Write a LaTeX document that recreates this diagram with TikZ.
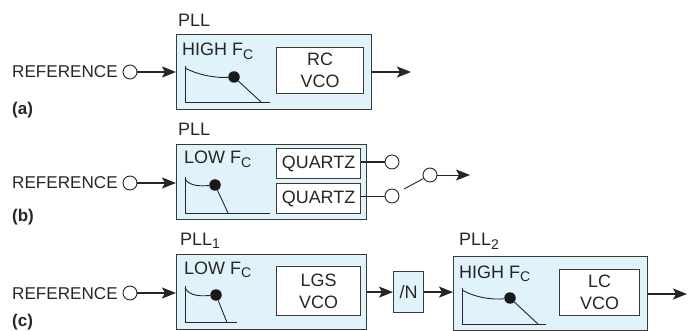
\documentclass[tikz,border=0pt]{standalone}
\usepackage{fontspec}
\setmainfont{Liberation Sans}
\usetikzlibrary{arrows.meta,positioning}
\definecolor{pllblue}{HTML}{E0F2FA}
\definecolor{linegray}{HTML}{3A3A3C}
\newcommand{\lowtxt}[1]{\raisebox{-3.5pt}{\fontsize{14}{14}\selectfont #1}}
\tikzset{
    lbl/.style={inner sep=0pt, anchor=base west, text=black!85, font=\fontsize{18}{20}\selectfont},
    boldlbl/.style={lbl, font=\fontsize{17}{20}\selectfont\bfseries},
    reflbl/.style={lbl, font=\fontsize{17.1}{20}\selectfont},
    bluebox/.style={draw=linegray, line width=1.2pt, fill=pllblue, inner sep=0pt, anchor=north west},
    whitebox/.style={draw=linegray, line width=1.1pt, fill=white, inner sep=0pt, align=center, anchor=north west, text=black!85, font=\fontsize{17.9}{22}\selectfont},
    port/.style={circle, draw=black!85, line width=0.9pt, fill=white, inner sep=0pt, minimum size=14pt},
    dotnode/.style={circle, fill=black!90, inner sep=0pt, minimum size=11.5pt},
    arrowline/.style={-{Stealth[length=14pt,width=11pt,inset=3pt]}, line width=1.3pt, draw=black!85},
    plotline/.style={line width=0.9pt, draw=black!85}
}
\begin{document}
\begin{tikzpicture}[x=1pt,y=-1pt]
    \useasboundingbox (0,0) rectangle (696,331);

    % (a)
    \node[bluebox, minimum width=195pt, minimum height=75pt] (plla) at (176,34) {};
    \node[whitebox, minimum width=87pt, minimum height=46pt] (rcvco) at (276,47) {RC\\VCO};
    \node[lbl] (plla label) at (178,27) {PLL};
    \node[lbl] (higha) at (182,56) {HIGH F\lowtxt{C}};
    \node[reflbl] (refa label) at (12,78) {REFERENCE};
    \node[port] (refa) at (130,72) {};
    \node[boldlbl] (a label) at (12,115) {(a)};
    \node[dotnode] (dota) at (234,77) {};
    \coordinate (lowa) at (261,102);
    \coordinate (enda) at (270,102);
    \draw[plotline] (185,66) -- (185,102) -- (enda);
    \draw[plotline] (185,68) .. controls (200,76) and (218,78) .. (dota);
    \draw[plotline] (dota) -- (lowa);
    \coordinate (outa) at (411,72);
    \draw[arrowline] (refa) -- (plla.west |- refa);
    \draw[arrowline] (plla.east |- outa) -- (outa);

    % (b)
    \node[bluebox, minimum width=190pt, minimum height=75pt] (pllb) at (176,144) {};
    \node[whitebox, minimum width=84pt, minimum height=30pt] (quartza) at (276,148) {QUARTZ};
    \node[whitebox, minimum width=84pt, minimum height=30pt] (quartzb) at (276,183) {QUARTZ};
    \node[lbl] (pllb label) at (178,136) {PLL};
    \node[lbl] (lowb) at (184,164) {LOW F\lowtxt{C}};
    \node[reflbl] (refb label) at (12,189) {REFERENCE};
    \node[port] (refb) at (130,183) {};
    \node[boldlbl] (b label) at (12,222) {(b)};
    \node[dotnode] (dotb) at (215,185) {};
    \coordinate (lowbb) at (228,213);
    \coordinate (endb) at (270,213);
    \draw[plotline] (185,177) -- (185,213) -- (endb);
    \draw[plotline] (185,179) .. controls (190,187) and (203,186) .. (dotb);
    \draw[plotline] (dotb) -- (lowbb);
    \node[port] (outb1) at (392,162) {};
    \node[port] (outb2) at (392,196) {};
    \node[port] (swb) at (430,175) {};
    \coordinate (swend) at (404,189);
    \coordinate (outb) at (470,175);
    \draw[arrowline] (refb) -- (pllb.west |- refb);
    \draw[line width=1.3pt, draw=black!85] (quartza.east |- outb1) -- (outb1);
    \draw[plotline] (quartzb.east |- outb2) -- (outb2);
    \draw[plotline] (swend) -- (swb);
    \draw[arrowline, line width=0.9pt] (swb) -- (outb);

    % (c)
    \node[bluebox, minimum width=190pt, minimum height=75pt] (pllc) at (176,254) {};
    \node[whitebox, minimum width=84pt, minimum height=49pt] (lgsvco) at (276,266) {LGS\\VCO};
    \node[lbl] (pllc label) at (180,245) {PLL\lowtxt{1}};
    \node[lbl] (lowc) at (184,274) {LOW F\lowtxt{C}};
    \node[reflbl] (refc label) at (12,299) {REFERENCE};
    \node[port] (refc) at (130,293) {};
    \node[boldlbl] (c label) at (12,326) {(c)};
    \node[dotnode] (dotc) at (216,295) {};
    \coordinate (lowcc) at (227,322.5);
    \coordinate (endc) at (237,322.5);
    \draw[plotline] (185,286) -- (185,322.5) -- (endc);
    \draw[plotline] (185,288) .. controls (190,297) and (203,296) .. (dotc);
    \draw[plotline] (dotc) -- (lowcc);
    \node[bluebox, minimum width=30pt, minimum height=41pt, text=black!85, font=\fontsize{18}{20}\selectfont] (div) at (393,271) {/N};
    \node[bluebox, minimum width=194pt, minimum height=74pt] (pllt) at (453,256) {};
    \node[whitebox, minimum width=80pt, minimum height=46pt] (lcvco) at (559,269) {LC\\VCO};
    \node[lbl] (pllt label) at (459,246) {PLL\lowtxt{2}};
    \node[lbl] (hight) at (459,278) {HIGH F\lowtxt{C}};
    \node[dotnode] (dott) at (510,298) {};
    \coordinate (lowt) at (538,324);
    \coordinate (endt) at (546,324);
    \draw[plotline] (462,288) -- (462,324) -- (endt);
    \draw[plotline] (462,290) .. controls (476,298) and (494,300) .. (dott);
    \draw[plotline] (dott) -- (lowt);
    \coordinate (outc) at (687,294);
    \draw[arrowline] (refc) -- (pllc.west |- refc);
    \draw[arrowline] (pllc.east |- div) -- (div);
    \draw[arrowline] (div) -- (pllt.west |- div);
    \draw[arrowline] (pllt.east |- outc) -- (outc);
\end{tikzpicture}
\end{document}
